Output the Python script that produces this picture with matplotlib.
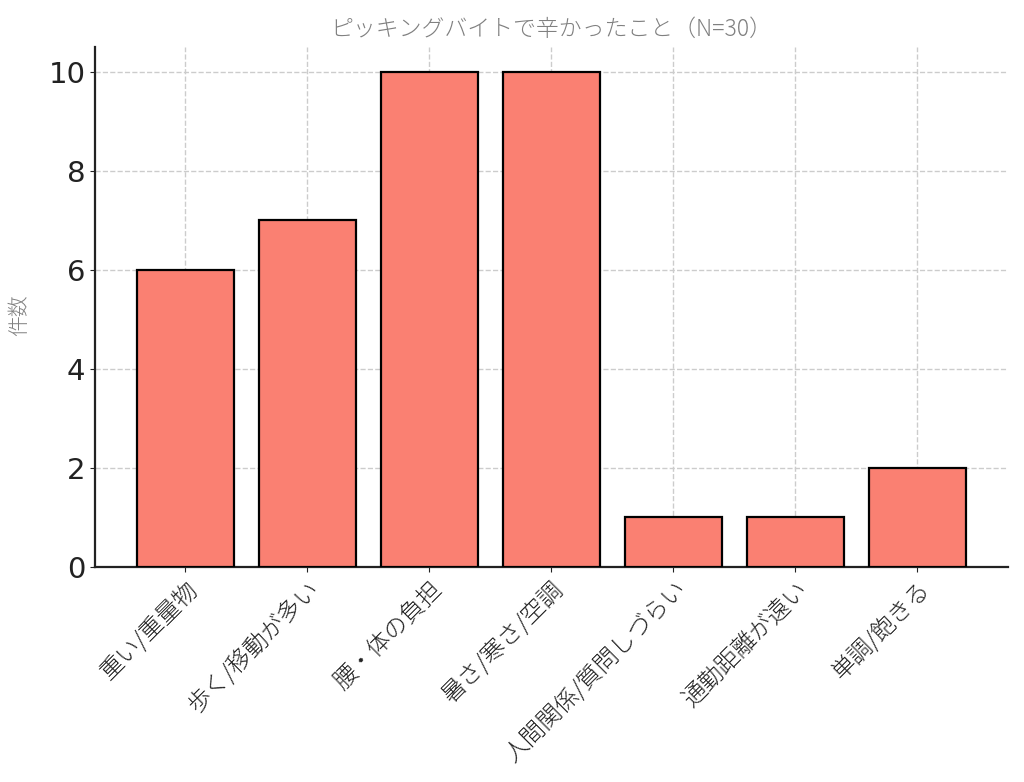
import matplotlib
matplotlib.use("Agg")
import matplotlib.pyplot as plt

plt.rcParams['font.family'] = ['Noto Sans CJK JP', 'DejaVu Sans']

categories = ["重い/重量物", "歩く/移動が多い", "腰・体の負担", "暑さ/寒さ/空調",
              "人間関係/質問しづらい", "通勤距離が遠い", "単調/飽きる"]
counts = [6, 7, 10, 10, 1, 1, 2]
title = "ピッキングバイトで辛かったこと（N=30）"
ylabel = "件数"

GRAY = "#808080"
fig = plt.figure(figsize=(10.24, 7.82), dpi=100)
ax = fig.add_axes([0.093, 0.275, 0.891, 0.665])

ax.bar(range(len(counts)), counts, width=0.8, color="#FA8072",
       edgecolor="black", linewidth=1.6, zorder=3)
ax.grid(True, linestyle="--", color="#cccccc", linewidth=1.0, zorder=0)
ax.set_axisbelow(True)

ax.set_xticks(range(len(categories)))
ax.set_xticklabels(categories, rotation=45, ha="right", rotation_mode="anchor",
                   fontsize=17, color=GRAY, fontweight="light")
ax.tick_params(axis="y", labelsize=21, colors="#222222")
ax.tick_params(axis="x", colors="#222222")
ax.set_yticks([0, 2, 4, 6, 8, 10])
for lab in ax.get_yticklabels():
    lab.set_family("DejaVu Sans")

ax.set_ylabel(ylabel, fontsize=15, color=GRAY, fontweight="light")
ax.yaxis.set_label_coords(-0.071, 0.485)
ax.set_title(title, fontsize=16.5, color=GRAY, fontweight="light", pad=8)

for s in ("top", "right"):
    ax.spines[s].set_visible(False)
for s in ("left", "bottom"):
    ax.spines[s].set_linewidth(1.6)
    ax.spines[s].set_color("#222222")

fig.savefig("out.png", dpi=100)
